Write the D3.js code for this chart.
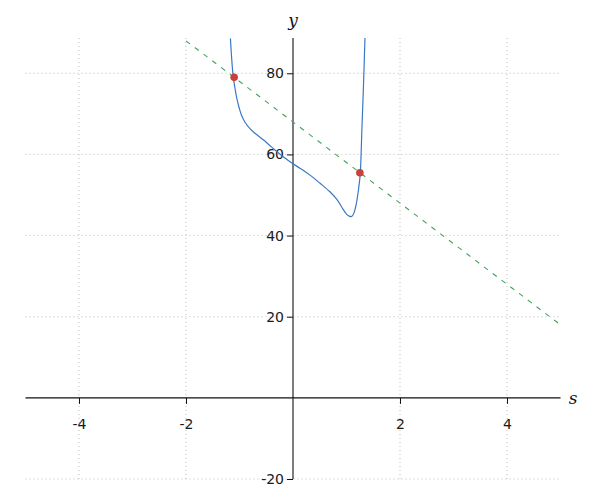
<!DOCTYPE html>
<html><head><meta charset="utf-8">
<script src="https://cdn.jsdelivr.net/npm/d3@7"></script>
<style>body{margin:0;background:#fff}svg{display:block}</style>
</head><body><svg id="c" width="600" height="500"></svg>
<script>
const xTicks = [-4, -2, 2, 4];
const yTicks = [-20, 20, 40, 60, 80];
const curveX = [-1.17, -1.14, -1.116, -1.08, -1.05, -1.0, -0.96, -0.9, -0.8, -0.7, -0.555, -0.45, -0.336, -0.2, -0.056, 0.13, 0.318, 0.505, 0.69, 0.82, 0.94, 1.0, 1.05, 1.097, 1.14, 1.18, 1.21, 1.24, 1.258, 1.29, 1.32, 1.346];
const curveY = [88.6, 82.5, 79, 76, 73.8, 71.2, 69.6, 68, 66.3, 65.1, 63.6, 62.4, 61.1, 59.6, 58.2, 56.6, 54.9, 52.9, 50.8, 48.9, 46.4, 45.3, 44.8, 44.7, 45.6, 47.6, 50, 53, 55.4, 67, 78, 89];
const lineX = [-2, 5];
const lineY = [88, 18];
const pointX = [-1.1, 1.25];
const pointY = [79, 55.5];

const svg = d3.select("#c");
const x = d3.scaleLinear().domain([-5, 5]).range([25.5, 560.5]);
const y = d3.scaleLinear().domain([-20, 88.7]).range([479, 38]);

svg.append("defs").append("clipPath").attr("id","clip").append("rect")
  .attr("x", x(-5)).attr("y", y(88.7)).attr("width", x(5)-x(-5)).attr("height", y(-20)-y(88.7));

// grid
const g = svg.append("g");
g.selectAll(".vg").data(xTicks).join("line")
  .attr("x1", d=>x(d)).attr("x2", d=>x(d)).attr("y1", y(88.7)).attr("y2", y(-20))
  .attr("stroke", "#bdbdbd").attr("stroke-dasharray", "1,3");
g.selectAll(".hg").data(yTicks).join("line")
  .attr("y1", d=>y(d)).attr("y2", d=>y(d)).attr("x1", x(-5)).attr("x2", x(5))
  .attr("stroke", "#bdbdbd").attr("stroke-dasharray", "1,3");

// axes
const fmt = d => String(d);
const xAxis = d3.axisBottom(x).tickValues(xTicks).tickSize(6).tickPadding(15).tickFormat(fmt);
const xa = svg.append("g").attr("transform", `translate(0,${y(0)})`).call(xAxis);
const yAxis = d3.axisLeft(y).tickValues(yTicks).tickSize(6).tickPadding(3).tickFormat(fmt);
const ya = svg.append("g").attr("transform", `translate(${x(0)},0)`).call(yAxis);
[xa, ya].forEach(a => {
  a.select(".domain").attr("stroke", "#111").attr("stroke-width", 1.1);
  a.selectAll(".tick line").attr("stroke", "#111");
  a.selectAll("text").attr("font-family", "DejaVu Sans").attr("font-size", 14).attr("fill", "#1a1a1a");
});
xa.select(".domain").attr("d", `M${x(-5)},0H${x(5)}`);
ya.select(".domain").attr("d", `M0,${y(88.7)}V${y(-20)}`);

svg.append("text").attr("x", x(0)).attr("y", 26).attr("text-anchor","middle")
  .attr("font-family","DejaVu Serif").attr("font-style","italic").attr("font-size",17).attr("fill","#111").text("y");
svg.append("text").attr("x", 573).attr("y", y(0)+6).attr("text-anchor","middle")
  .attr("font-family","DejaVu Serif").attr("font-style","italic").attr("font-size",17).attr("fill","#111").text("s");

const plot = svg.append("g").attr("clip-path","url(#clip)");
// dashed line
plot.append("path").datum(d3.zip(lineX, lineY))
  .attr("d", d3.line().x(d=>x(d[0])).y(d=>y(d[1])))
  .attr("fill","none").attr("stroke","#45a35c").attr("stroke-width",1.1).attr("stroke-dasharray","5,6");
// curve
plot.append("path").datum(d3.zip(curveX, curveY))
  .attr("d", d3.line().x(d=>x(d[0])).y(d=>y(d[1])).curve(d3.curveCatmullRom))
  .attr("fill","none").attr("stroke","#3a78c4").attr("stroke-width",1.2);
// points
svg.selectAll(".pt").data(d3.zip(pointX, pointY)).join("circle")
  .attr("cx", d=>x(d[0])).attr("cy", d=>y(d[1])).attr("r", 3.8).attr("fill", "#c8413a");
</script></body></html>
